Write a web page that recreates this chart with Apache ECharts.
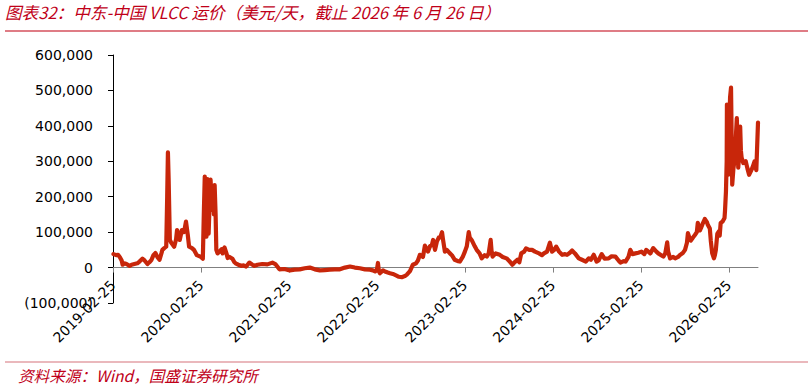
<!DOCTYPE html>
<html>
<head>
<meta charset="utf-8">
<script src="https://cdn.jsdelivr.net/npm/echarts@6/dist/echarts.min.js"></script>
<style>
  html, body { margin: 0; padding: 0; background: #fff; }
  #chart { width: 811px; height: 388px; }
</style>
</head>
<body>
<div id="chart"></div>
<script>
const titleText = '图表32：中东-中国 VLCC 运价（美元/天，截止 2026 年 6 月 26 日）'
const sourceText = '资料来源：Wind，国盛证券研究所'

const tickDates = ['2019-02-25', '2020-02-25', '2021-02-25', '2022-02-25', '2023-02-25', '2024-02-25', '2025-02-25', '2026-02-25']

// VLCC 中东-中国 运价 (美元/天)
const dates = [
  '2019-02-27', '2019-03-10', '2019-03-18', '2019-03-25', '2019-04-02', '2019-04-06', '2019-04-15', '2019-04-22',
  '2019-05-05', '2019-05-13', '2019-05-25', '2019-06-06', '2019-06-15', '2019-06-27', '2019-07-06', '2019-07-18',
  '2019-07-26', '2019-08-04', '2019-08-12', '2019-08-20', '2019-08-28', '2019-09-06', '2019-09-14', '2019-09-18',
  '2019-09-26', '2019-10-04', '2019-10-08', '2019-10-11', '2019-10-14', '2019-10-19', '2019-10-25', '2019-11-06',
  '2019-11-14', '2019-11-18', '2019-11-29', '2019-12-08', '2019-12-17', '2019-12-25', '2020-01-01', '2020-01-07',
  '2020-01-19', '2020-01-27', '2020-02-08', '2020-02-25', '2020-03-04', '2020-03-08', '2020-03-12', '2020-03-16',
  '2020-03-19', '2020-03-23', '2020-03-26', '2020-03-28', '2020-04-02', '2020-04-05', '2020-04-09', '2020-04-13',
  '2020-04-16', '2020-04-19', '2020-04-22', '2020-04-26', '2020-04-29', '2020-05-04', '2020-05-12', '2020-05-21',
  '2020-05-25', '2020-06-02', '2020-06-10', '2020-06-15', '2020-06-23', '2020-07-05', '2020-07-13', '2020-07-20',
  '2020-07-30', '2020-08-10', '2020-08-20', '2020-08-31', '2020-09-13', '2020-09-26', '2020-10-04', '2020-10-17',
  '2020-11-06', '2020-11-27', '2020-12-18', '2020-12-30', '2021-01-16', '2021-02-06', '2021-02-28', '2021-03-20',
  '2021-04-10', '2021-05-01', '2021-05-22', '2021-06-12', '2021-07-03', '2021-07-23', '2021-08-13', '2021-09-03',
  '2021-09-24', '2021-10-15', '2021-11-05', '2021-11-25', '2021-12-16', '2022-01-06', '2022-01-27', '2022-02-08',
  '2022-02-17', '2022-02-25', '2022-03-01', '2022-03-05', '2022-03-09', '2022-03-22', '2022-03-30', '2022-04-11',
  '2022-04-20', '2022-05-02', '2022-05-15', '2022-05-27', '2022-06-08', '2022-06-21', '2022-06-29', '2022-07-12',
  '2022-07-24', '2022-08-06', '2022-08-14', '2022-08-22', '2022-09-04', '2022-09-12', '2022-09-20', '2022-09-25',
  '2022-10-03', '2022-10-11', '2022-10-16', '2022-10-24', '2022-11-01', '2022-11-09', '2022-11-15', '2022-11-22',
  '2022-11-26', '2022-12-04', '2022-12-12', '2022-12-25', '2023-01-02', '2023-01-14', '2023-01-27', '2023-02-04',
  '2023-02-16', '2023-02-25', '2023-03-05', '2023-03-13', '2023-03-17', '2023-03-25', '2023-04-07', '2023-04-15',
  '2023-04-27', '2023-05-06', '2023-05-18', '2023-05-27', '2023-06-04', '2023-06-12', '2023-06-16', '2023-06-20',
  '2023-07-03', '2023-07-20', '2023-08-01', '2023-08-17', '2023-08-29', '2023-09-10', '2023-09-18', '2023-10-01',
  '2023-10-09', '2023-10-17', '2023-10-29', '2023-11-06', '2023-11-19', '2023-12-01', '2023-12-13', '2023-12-30',
  '2024-01-11', '2024-01-19', '2024-02-01', '2024-02-13', '2024-02-22', '2024-03-02', '2024-03-10', '2024-03-22',
  '2024-04-04', '2024-04-16', '2024-04-24', '2024-05-06', '2024-05-15', '2024-05-27', '2024-06-12', '2024-06-25',
  '2024-07-11', '2024-07-23', '2024-08-01', '2024-08-13', '2024-08-25', '2024-09-02', '2024-09-15', '2024-09-27',
  '2024-10-14', '2024-10-26', '2024-11-11', '2024-11-24', '2024-12-02', '2024-12-15', '2024-12-23', '2025-01-04',
  '2025-01-12', '2025-01-21', '2025-02-02', '2025-02-14', '2025-02-27', '2025-03-11', '2025-03-19', '2025-03-28',
  '2025-04-05', '2025-04-17', '2025-04-30', '2025-05-08', '2025-05-20', '2025-05-29', '2025-06-06', '2025-06-14',
  '2025-06-18', '2025-06-26', '2025-07-09', '2025-07-17', '2025-07-29', '2025-08-07', '2025-08-19', '2025-08-27',
  '2025-09-04', '2025-09-08', '2025-09-16', '2025-09-20', '2025-09-29', '2025-10-07', '2025-10-15', '2025-10-19',
  '2025-10-28', '2025-11-01', '2025-11-09', '2025-11-17', '2025-11-26', '2025-11-30', '2025-12-08', '2025-12-12',
  '2025-12-18', '2025-12-25', '2025-12-29', '2026-01-02', '2026-01-08', '2026-01-14', '2026-01-18', '2026-01-22',
  '2026-01-30', '2026-02-07', '2026-02-09', '2026-02-13', '2026-02-16', '2026-02-17', '2026-02-20', '2026-02-23',
  '2026-02-26', '2026-03-02', '2026-03-06', '2026-03-08', '2026-03-11', '2026-03-16', '2026-03-22', '2026-03-27',
  '2026-03-30', '2026-04-02', '2026-04-05', '2026-04-09', '2026-04-13', '2026-04-16', '2026-04-19', '2026-04-26',
  '2026-05-06', '2026-05-13', '2026-05-20', '2026-05-26', '2026-06-03', '2026-06-12', '2026-06-19', '2026-06-26'
]

const rates = [
  38000, 35000, 36000, 30000, 20000, 8000, 12000, 10000,
  5000, 8000, 10000, 12000, 17000, 25000, 20000, 10000,
  15000, 22000, 35000, 41000, 30000, 22000, 40000, 50000,
  55000, 59000, 200000, 325000, 250000, 78000, 70000, 59000,
  80000, 106000, 78000, 106000, 100000, 130000, 95000, 59000,
  55000, 50000, 35000, 30000, 25000, 150000, 257000, 150000,
  87000, 250000, 180000, 96000, 200000, 248000, 200000, 163000,
  220000, 150000, 233000, 150000, 50000, 40000, 45000, 52000,
  40000, 57000, 40000, 27000, 30000, 25000, 15000, 11000,
  8000, 5000, 6000, 3000, 14000, 8000, 5000, 8000,
  10000, 9000, 14000, 10000, -5000, -4000, -8000, -6000,
  -5000, -2000, 0, -5000, -8000, -7000, -6000, -5000,
  -5000, 0, 3000, 0, -2000, -5000, -6000, -8000,
  -11000, -5000, 13000, -10000, -16000, -8000, -11000, -14000,
  -16000, -18000, -22000, -26000, -27000, -24000, -20000, -10000,
  8000, 12000, 20000, 36000, 30000, 62000, 50000, 45000,
  60000, 64000, 78000, 50000, 74000, 85000, 85000, 100000,
  80000, 45000, 50000, 40000, 35000, 22000, 18000, 17000,
  30000, 45000, 60000, 100000, 85000, 78000, 60000, 50000,
  40000, 26000, 35000, 31000, 40000, 78000, 45000, 31000,
  40000, 36000, 30000, 26000, 18000, 8000, 14000, 22000,
  15000, 40000, 45000, 54000, 50000, 50000, 45000, 40000,
  35000, 40000, 45000, 70000, 45000, 50000, 59000, 45000,
  36000, 38000, 36000, 42000, 48000, 40000, 26000, 22000,
  17000, 26000, 22000, 36000, 17000, 20000, 38000, 25000,
  26000, 32000, 31000, 20000, 14000, 18000, 17000, 30000,
  50000, 38000, 40000, 42000, 45000, 38000, 50000, 45000,
  40000, 55000, 45000, 40000, 35000, 31000, 40000, 71000,
  45000, 26000, 30000, 26000, 30000, 36000, 42000, 50000,
  70000, 97000, 80000, 76000, 85000, 92000, 100000, 126000,
  105000, 111000, 125000, 137000, 128000, 120000, 110000, 76000,
  40000, 26000, 35000, 50000, 95000, 102000, 90000, 126000,
  130000, 140000, 160000, 215000, 300000, 460000, 380000, 262000,
  380000, 480000, 508000, 400000, 234000, 280000, 310000, 380000,
  422000, 350000, 282000, 320000, 398000, 330000, 310000, 295000,
  300000, 280000, 262000, 270000, 282000, 300000, 275000, 409000
]

const chart = echarts.init(document.getElementById('chart'), null, { renderer: 'svg' })

const fontFamily = "'DejaVu Sans', Verdana, sans-serif"
const cjkFont = "'Noto Sans CJK SC', 'DejaVu Sans', sans-serif"
const titleColor = '#c00018'

// grid: 55 (600,000) .. 303 (-100,000); zero line sits one step above bottom
const gridTop = 55
const gridBottom = 85
const zeroOffset = -(388 - gridBottom - gridTop) / 7

function toTime(s) {
  return Date.UTC(+s.slice(0, 4), +s.slice(5, 7) - 1, +s.slice(8, 10))
}

function fmtNumber(v) {
  const s = Math.abs(v).toLocaleString('en-US')
  return v < 0 ? '(' + s + ')' : s
}

function fmtDate(v) {
  const d = new Date(v)
  const mm = String(d.getUTCMonth() + 1).padStart(2, '0')
  const dd = String(d.getUTCDate()).padStart(2, '0')
  return d.getUTCFullYear() + '-' + mm + '-' + dd
}

const tickValues = tickDates.map(toTime)

chart.setOption({
  animation: false,
  backgroundColor: '#fff',
  grid: { left: 113, right: 53, top: gridTop, bottom: gridBottom, containLabel: false },
  graphic: [
    {
      type: 'text',
      left: 5,
      top: 4,
      style: { text: titleText, fill: titleColor, font: 'italic 16.6px ' + cjkFont }
    },
    {
      type: 'line',
      shape: { x1: 5, y1: 31, x2: 808, y2: 31 },
      style: { stroke: '#d4505c', lineWidth: 1.5 }
    },
    {
      type: 'line',
      shape: { x1: 5, y1: 362, x2: 808, y2: 362 },
      style: { stroke: '#e3a0a6', lineWidth: 1.5 }
    },
    {
      type: 'text',
      left: 18,
      top: 367,
      style: { text: sourceText, fill: titleColor, font: 'italic 15.6px ' + cjkFont }
    }
  ],
  xAxis: {
    type: 'value',
    position: 'bottom',
    offset: zeroOffset,
    min: toTime('2019-02-25'),
    max: toTime('2026-06-26'),
    splitLine: { show: false },
    axisLine: { onZero: false, lineStyle: { color: '#808080', width: 1 } },
    axisTick: { show: true, length: 5, lineStyle: { color: '#808080' }, customValues: tickValues },
    axisLabel: {
      rotate: 45,
      margin: 15,
      color: '#000',
      fontFamily: fontFamily,
      fontSize: 14,
      showMinLabel: true,
      showMaxLabel: true,
      hideOverlap: false,
      customValues: tickValues,
      formatter: (v) => fmtDate(v)
    }
  },
  yAxis: {
    type: 'value',
    min: -100000,
    max: 600000,
    interval: 100000,
    splitLine: { show: false },
    axisLine: { show: true, onZero: false, lineStyle: { color: '#000', width: 1 } },
    axisTick: { show: true, length: 5, lineStyle: { color: '#000' } },
    axisLabel: {
      margin: 20,
      color: '#000',
      fontFamily: fontFamily,
      fontSize: 14,
      formatter: (v) => fmtNumber(v)
    }
  },
  series: [
    {
      type: 'line',
      name: '中东-中国 VLCC 运价',
      data: dates.map((d, i) => [toTime(d), rates[i]]),
      showSymbol: false,
      symbol: 'none',
      z: 3,
      lineStyle: { color: '#c8260a', width: 4.2, join: 'round', cap: 'round' },
      itemStyle: { color: '#c8260a' }
    }
  ]
})
</script>
</body>
</html>
